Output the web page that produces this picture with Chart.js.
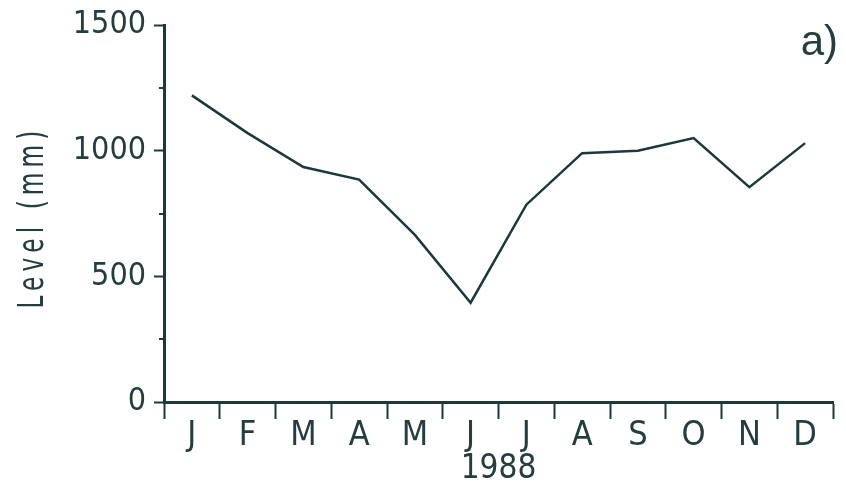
<!DOCTYPE html>
<html>
<head>
<meta charset="utf-8">
<script src="https://cdn.jsdelivr.net/npm/chart.js@4"></script>
<style>
  html, body { margin: 0; padding: 0; background: #ffffff; }
  #wrap { width: 846px; height: 493px; position: relative; }
</style>
</head>
<body>
<div id="wrap"><canvas id="c" width="846" height="493"></canvas></div>
<script>
// Monthly level, 1988
const months = ['J', 'F', 'M', 'A', 'M', 'J', 'J', 'A', 'S', 'O', 'N', 'D'];
const levels = [1220, 1070, 935, 885, 665, 395, 785, 990, 1000, 1050, 855, 1030];
const majorTicks = [0, 500, 1000, 1500];
const minorTicks = [250, 750, 1250];
const yearLabel = '1988';
const yTitle = 'Level (mm)';
const panelTag = 'a)';

const INK = '#1c3838';
const TEXT = '#243d3d';
const FONT = '"DejaVu Sans Condensed", "Liberation Sans Narrow", sans-serif';
const TAG_FONT = '"Liberation Sans", Arial, sans-serif';

// Short minor ticks on the value axis, the spaced narrow axis title and the panel tag
const extras = {
  id: 'extras',
  afterDraw(chart) {
    const ctx = chart.ctx;
    const y = chart.scales.y;
    const left = chart.chartArea.left;
    ctx.save();
    ctx.strokeStyle = INK;
    ctx.lineWidth = 2;
    minorTicks.forEach(v => {
      const py = Math.round(y.getPixelForValue(v));
      ctx.beginPath();
      ctx.moveTo(left - 5, py);
      ctx.lineTo(left, py);
      ctx.stroke();
    });

    ctx.fillStyle = TEXT;
    ctx.font = '36px ' + FONT;
    ctx.letterSpacing = '7px';
    ctx.textAlign = 'center';
    ctx.textBaseline = 'middle';
    ctx.translate(34, 217);
    ctx.rotate(-Math.PI / 2);
    ctx.scale(0.72, 1);
    ctx.fillText(yTitle, 0, 0);
    ctx.restore();

    ctx.save();
    ctx.fillStyle = TEXT;
    ctx.font = '42px ' + TAG_FONT;
    ctx.textAlign = 'right';
    ctx.textBaseline = 'alphabetic';
    ctx.fillText(panelTag, 838, 55);
    ctx.restore();
  }
};

new Chart(document.getElementById('c'), {
  type: 'line',
  data: {
    labels: months,
    datasets: [{
      data: levels,
      borderColor: INK,
      borderWidth: 2.5,
      pointRadius: 0,
      tension: 0,
      fill: false
    }]
  },
  options: {
    responsive: false,
    animation: false,
    devicePixelRatio: 1,
    layout: { padding: { left: 0, right: 13, top: 25, bottom: 0 } },
    plugins: { legend: { display: false }, tooltip: { enabled: false } },
    scales: {
      x: {
        type: 'category',
        offset: true,
        afterFit(s) { s.height = 91; },
        grid: {
          offset: true,
          drawOnChartArea: false,
          drawTicks: true,
          tickLength: 17,
          tickWidth: 2,
          tickColor: INK,
          color: INK
        },
        border: { display: true, color: INK, width: 3 },
        ticks: {
          color: TEXT,
          font: { family: FONT, size: 34, lineHeight: 1 },
          padding: 0,
          maxRotation: 0,
          autoSkip: false
        },
        title: {
          display: true,
          text: yearLabel,
          color: TEXT,
          font: { family: FONT, size: 33, lineHeight: 1 },
          padding: { top: 0, bottom: 7 }
        }
      },
      y: {
        min: 0,
        max: 1500,
        afterFit(s) { s.width = 164; },
        afterBuildTicks(s) { s.ticks = majorTicks.map(v => ({ value: v })); },
        grid: {
          drawOnChartArea: false,
          drawTicks: true,
          tickLength: 10,
          tickWidth: 2,
          tickColor: INK,
          color: INK
        },
        border: { display: true, color: INK, width: 3 },
        ticks: {
          color: TEXT,
          font: { family: FONT, size: 32, lineHeight: 1 },
          padding: 8,
          callback: v => String(v)
        },
        title: { display: false }
      }
    }
  },
  plugins: [extras]
});
</script>
</body>
</html>
